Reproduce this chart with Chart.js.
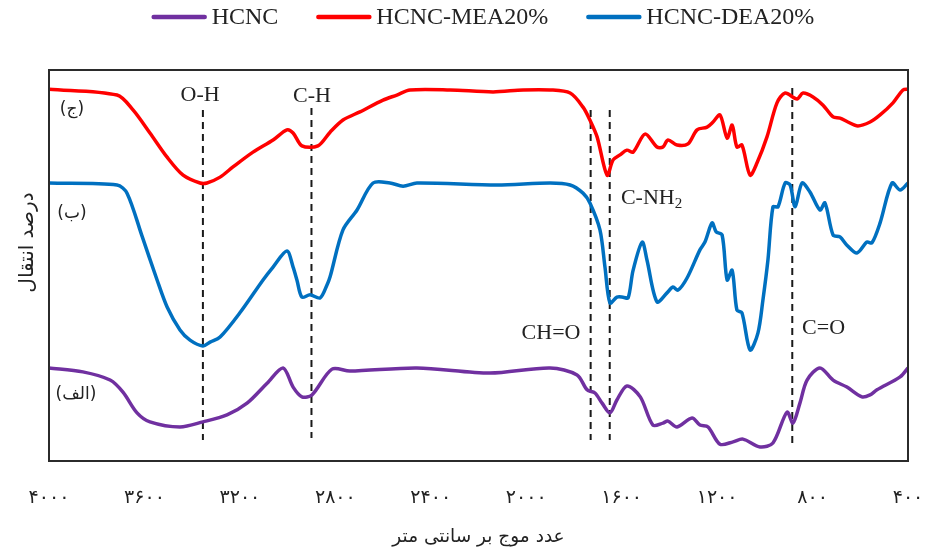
<!DOCTYPE html>
<html>
<head>
<meta charset="utf-8">
<script src="https://cdn.jsdelivr.net/npm/chart.js@4.4.1/dist/chart.umd.min.js"></script>
<style>
  html, body { margin: 0; padding: 0; background: #fff; }
</style>
</head>
<body>
<canvas id="ftirChart" width="925" height="552"></canvas>
<script>
// طیف FTIR - عدد موج (cm-1) و درصد انتقال خوانده شده از تصویر
const seriesNames = ['HCNC', 'HCNC-MEA20%', 'HCNC-DEA20%'];
const seriesColors = ['#7030A0', '#FF0000', '#0070C0'];

const hcncWave = [4000, 3858, 3744, 3690, 3631, 3577, 3451, 3355, 3254, 3170, 3086, 3019, 2977, 2940, 2898, 2814, 2739, 2458, 2152, 1900, 1787, 1745, 1712, 1682, 1649, 1620, 1578, 1522, 1469, 1427, 1406, 1368, 1305, 1272, 1238, 1188, 1133, 1092, 1020, 966, 907, 882, 853, 823, 769, 714, 656, 593, 559, 530, 433, 400];
const hcncT = [23.8, 22.8, 20.7, 17.6, 12.3, 10.0, 8.7, 10.0, 11.8, 14.8, 19.9, 23.8, 18.9, 16.4, 16.9, 23.5, 23.0, 23.8, 22.5, 23.8, 22.0, 18.2, 17.4, 14.8, 12.3, 15.6, 19.2, 16.4, 9.2, 9.7, 10.2, 8.7, 11.0, 9.2, 8.7, 4.3, 4.9, 5.6, 3.6, 4.6, 12.5, 9.7, 14.8, 20.7, 23.8, 20.7, 18.9, 16.4, 16.9, 18.2, 21.5, 23.8];

const meaWave = [4000, 3715, 3648, 3577, 3505, 3438, 3367, 3338, 3283, 3229, 3145, 3061, 3003, 2977, 2940, 2873, 2822, 2768, 2697, 2600, 2542, 2487, 2319, 2139, 2013, 1900, 1816, 1762, 1733, 1703, 1661, 1636, 1607, 1578, 1552, 1502, 1452, 1427, 1406, 1368, 1322, 1284, 1242, 1217, 1188, 1158, 1137, 1117, 1096, 1062, 1033, 991, 949, 915, 865, 840, 798, 756, 714, 685, 652, 610, 559, 517, 463, 421, 400];
const meaT = [95.1, 93.6, 89.8, 83.9, 77.7, 73.1, 71.1, 71.1, 72.6, 75.2, 79.0, 82.1, 84.7, 83.9, 80.6, 80.6, 84.1, 87.2, 89.3, 92.3, 93.6, 94.9, 94.9, 94.4, 94.9, 94.9, 94.1, 90.5, 87.2, 82.9, 73.1, 77.0, 78.3, 79.5, 79.0, 83.6, 80.3, 80.3, 82.1, 80.8, 81.1, 84.7, 85.4, 86.7, 88.5, 82.6, 85.9, 80.3, 80.8, 73.1, 76.2, 82.9, 91.6, 94.1, 92.6, 94.1, 93.1, 91.0, 88.0, 87.7, 86.7, 85.7, 86.7, 88.5, 91.6, 94.9, 95.1];

const deaWave = [4000, 3715, 3673, 3610, 3547, 3505, 3451, 3409, 3355, 3325, 3283, 3200, 3103, 3061, 3003, 2977, 2961, 2940, 2906, 2864, 2835, 2822, 2768, 2709, 2642, 2571, 2516, 2458, 2122, 1900, 1816, 1762, 1733, 1691, 1670, 1649, 1620, 1594, 1573, 1552, 1514, 1494, 1452, 1410, 1385, 1364, 1326, 1272, 1251, 1221, 1204, 1179, 1158, 1137, 1117, 1096, 1062, 1029, 1008, 987, 966, 945, 915, 894, 873, 844, 811, 769, 748, 714, 685, 656, 614, 572, 551, 517, 467, 433, 400];
const deaT = [71.1, 70.6, 68.5, 57.5, 46.3, 39.4, 33.5, 30.9, 29.4, 30.4, 31.7, 37.9, 46.3, 49.6, 53.7, 49.6, 46.3, 41.9, 42.5, 41.7, 45.0, 47.1, 59.1, 64.2, 71.1, 71.1, 70.3, 71.1, 70.6, 71.1, 70.6, 68.5, 66.0, 59.1, 49.6, 40.4, 41.9, 41.9, 41.7, 48.8, 56.0, 51.4, 40.7, 43.0, 44.5, 43.7, 46.8, 54.0, 56.0, 60.9, 58.6, 57.8, 46.3, 48.8, 38.6, 37.9, 28.4, 32.7, 41.2, 51.4, 65.0, 65.0, 71.1, 70.6, 65.0, 71.1, 68.8, 64.2, 66.0, 57.8, 57.3, 55.2, 53.2, 56.0, 55.8, 60.9, 71.1, 69.3, 71.1];

// خطوط چین و برچسب پیوندها
const markerWave = [3355, 2900, 1730, 1650, 885];
const markerTop = [89.8, 90.3, 89.8, 89.8, 95.4];
const markerBottom = [5.4, 5.9, 5.4, 5.4, 4.1];

const bondLabels = ['O-H', 'C-H', 'CH=O', 'C=O'];
const bondWave = [3367, 2898, 1896, 754];
const bondT = [93.6, 93.4, 32.7, 34.0];

const sampleLabels = ['(ج)', '(ب)', '(الف)'];
const sampleWave = [3904, 3904, 3887];
const sampleT = [89.8, 63.4, 16.9];

const xTicks = [4000, 3600, 3200, 2800, 2400, 2000, 1600, 1200, 800, 400];
const yTitle = 'درصد انتقال';

function toPersian(n) {
    return String(n).replace(/\d/g, d => '۰۱۲۳۴۵۶۷۸۹'[d]);
}

function pts(xs, ys) {
    return xs.map((x, i) => ({ x: x, y: ys[i] }));
}

const datasets = [
    { label: seriesNames[0], data: pts(hcncWave, hcncT) },
    { label: seriesNames[1], data: pts(meaWave, meaT) },
    { label: seriesNames[2], data: pts(deaWave, deaT) }
].map((d, i) => Object.assign(d, {
    borderColor: seriesColors[i],
    backgroundColor: seriesColors[i],
    borderWidth: 3.5,
    pointRadius: 0,
    tension: 0.3,
    fill: false
}));

markerWave.forEach((w, i) => {
    datasets.push({
        label: 'marker' + i,
        data: [{ x: w, y: markerTop[i] }, { x: w, y: markerBottom[i] }],
        borderColor: '#1a1a1a',
        borderWidth: 2,
        borderDash: [7, 5],
        pointRadius: 0,
        fill: false
    });
});

// قاب، راهنما و متن ها
const extrasPlugin = {
    id: 'extras',
    afterDatasetsDraw(chart) {
        const ctx = chart.ctx;
        const xs = chart.scales.x, ys = chart.scales.y;
        const a = chart.chartArea;
        ctx.save();
        ctx.strokeStyle = '#2b2b2b';
        ctx.lineWidth = 2;
        ctx.strokeRect(a.left, a.top, a.right - a.left, a.bottom - a.top);

        ctx.fillStyle = '#222';
        ctx.textAlign = 'center';
        ctx.textBaseline = 'middle';
        ctx.font = '22px "Liberation Serif", serif';
        bondLabels.forEach((t, i) => {
            ctx.fillText(t, xs.getPixelForValue(bondWave[i]), ys.getPixelForValue(bondT[i]));
        });

        // C-NH2 با زیرنویس
        ctx.textAlign = 'left';
        const nx = xs.getPixelForValue(1603), ny = ys.getPixelForValue(67.3);
        ctx.fillText('C-NH', nx, ny);
        const w = ctx.measureText('C-NH').width;
        ctx.font = '15px "Liberation Serif", serif';
        ctx.fillText('2', nx + w, ny + 6);

        ctx.textAlign = 'center';
        ctx.font = '17px "DejaVu Sans", sans-serif';
        sampleLabels.forEach((t, i) => {
            ctx.fillText(t, xs.getPixelForValue(sampleWave[i]), ys.getPixelForValue(sampleT[i]));
        });

        // عنوان محور عمودی
        ctx.save();
        ctx.translate(a.left - 21, (a.top + a.bottom) / 2 - 23);
        ctx.rotate(-Math.PI / 2);
        ctx.font = '20px "DejaVu Sans", sans-serif';
        ctx.fillText(yTitle, 0, 0);
        ctx.restore();

        // راهنما
        ctx.font = '24px "Liberation Serif", serif';
        ctx.textAlign = 'left';
        const items = chart.data.datasets.slice(0, 3);
        const lineLen = 55, gapText = 5, gapItem = 38;
        let total = 0;
        items.forEach((d, i) => {
            total += lineLen + gapText + ctx.measureText(d.label).width + (i < 2 ? gapItem : 0);
        });
        let lx = 483 - total / 2;
        const ly = 17;
        ctx.lineCap = 'round';
        ctx.lineWidth = 4.5;
        items.forEach(d => {
            ctx.strokeStyle = d.borderColor;
            ctx.beginPath();
            ctx.moveTo(lx + 2, ly);
            ctx.lineTo(lx + lineLen - 2, ly);
            ctx.stroke();
            lx += lineLen + gapText;
            ctx.fillText(d.label, lx, ly + 1);
            lx += ctx.measureText(d.label).width + gapItem;
        });
        ctx.restore();
    }
};

const ctx = document.getElementById('ftirChart').getContext('2d');
const ftirChart = new Chart(ctx, {
    type: 'line',
    data: { datasets: datasets },
    options: {
        responsive: false,
        animation: false,
        layout: { padding: { top: 70, left: 49, right: 17, bottom: 0 } },
        plugins: {
            legend: { display: false },
            tooltip: { enabled: false }
        },
        scales: {
            x: {
                type: 'linear',
                reverse: true,
                min: 400,
                max: 4000,
                afterBuildTicks: axis => { axis.ticks = xTicks.map(v => ({ value: v })); },
                afterFit: axis => {
                    axis.height = 91;
                    axis.paddingLeft = 0;
                    axis.paddingRight = 0;
                },
                grid: { display: false, drawTicks: false },
                border: { display: false },
                ticks: {
                    padding: 26,
                    maxRotation: 0,
                    color: '#222',
                    font: { family: '"DejaVu Sans", sans-serif', size: 19 },
                    callback: v => toPersian(v)
                },
                title: {
                    display: true,
                    text: 'عدد موج بر سانتی متر',
                    color: '#222',
                    font: { family: '"DejaVu Sans", sans-serif', size: 18.5 },
                    padding: { top: 0, bottom: 4 }
                }
            },
            y: {
                display: false,
                min: 0,
                max: 100
            }
        }
    },
    plugins: [extrasPlugin]
});
</script>
</body>
</html>
